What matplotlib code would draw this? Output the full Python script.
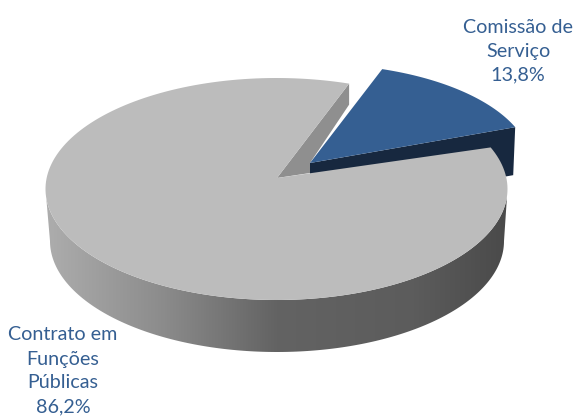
import numpy as np
import matplotlib
matplotlib.use("Agg")
import matplotlib.pyplot as plt
from matplotlib.colors import LinearSegmentedColormap
from matplotlib.patches import Polygon

# Dados
categorias = ["Comissão de\nServiço", "Contrato em\nFunções\nPúblicas"]
valores = [13.8, 86.2]

plt.rcParams["font.family"] = ["Lato", "DejaVu Sans"]

fig = plt.figure(figsize=(5.74, 4.17), dpi=100)
ax = fig.add_axes([0, 0, 1, 1])
ax.set_xlim(0, 574)
ax.set_ylim(417, 0)
ax.axis("off")

# Geometria do disco (em pixeis)
cx, cy = 276.5, 189
a, b = 231, 111
cx_base, cy_base, a_base, b_base = 277, 241, 227, 111
ini = 22.0
fim = ini + valores[0] / sum(valores) * 360
apice = np.array([277, 178])
apice_azul = np.array([310, 163])
prof_azul = 48


def arco(t0, t1, xc=cx, yc=cy, ra=a, rb=b):
    t = np.radians(np.linspace(t0, t1, 200))
    return np.column_stack([xc + ra * np.cos(t), yc - rb * np.sin(t)])


# Parede interior da fatia cinzenta
p_fim = arco(fim, fim)[0]
ax.add_patch(Polygon([apice, p_fim, p_fim + [0, 21], apice_azul, apice_azul + [0, 10]],
                     color="#8f8f8f", lw=0, zorder=1))

# Fatia destacada: parede e topo
arco_azul = arco(ini, fim, 314, 165, 217, 101)
ax.add_patch(Polygon([apice_azul, arco_azul[0], arco_azul[0] + [-2, prof_azul],
                      apice_azul + [0, prof_azul]], color="#17283f", lw=0, zorder=2))
ax.add_patch(Polygon(np.vstack([[apice_azul], arco_azul]), color="#355f92", lw=0, zorder=3))

# Parede exterior com gradiente
parede = np.vstack([arco(180, 360), arco(360, 180, cx_base, cy_base, a_base, b_base)])
cmap = LinearSegmentedColormap.from_list(
    "parede", [(0, "#adadad"), (0.25, "#8c8c8c"), (0.5, "#636363"), (0.8, "#5c5c5c"), (1, "#4a4a4a")])
im = ax.imshow(np.linspace(0, 1, 256).reshape(1, -1), cmap=cmap, aspect="auto",
               extent=[46, 507, 352, 180], zorder=4)
clip = Polygon(parede, transform=ax.transData, fc="none", lw=0)
ax.add_patch(clip)
im.set_clip_path(clip)
ax.set_xlim(0, 574)
ax.set_ylim(417, 0)

# Topo da fatia cinzenta
ax.add_patch(Polygon(np.vstack([[apice], arco(fim, ini + 360)]), color="#bcbcbc", lw=0, zorder=5))

# Etiquetas
texto = "#355f92"
rotulos = [c + "\n" + f"{v:.1f}".replace(".", ",") + "%" for c, v in zip(categorias, valores)]
ax.text(518, 51, rotulos[0], color=texto, fontsize=14.2, ha="center", va="center",
        linespacing=1.5, zorder=6)
ax.text(63, 371, rotulos[1], color=texto, fontsize=14.2, ha="center", va="center",
        linespacing=1.5, zorder=6)

fig.savefig("out.png", dpi=100)
